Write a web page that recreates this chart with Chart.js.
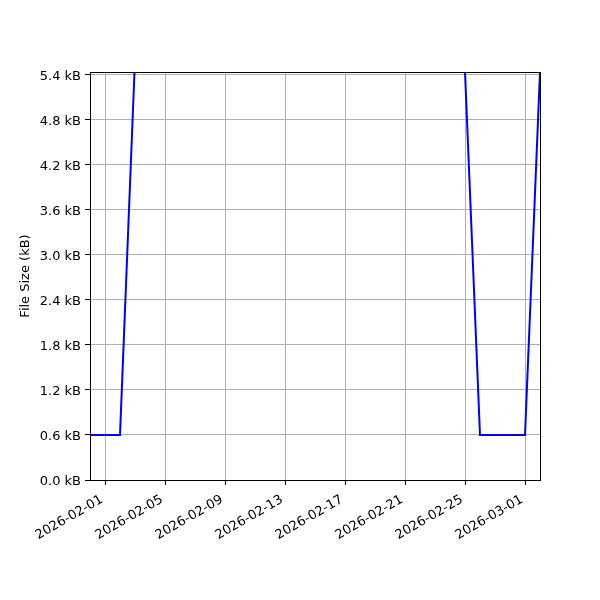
<!DOCTYPE html>
<html>
<head>
<meta charset="utf-8">
<script src="https://cdn.jsdelivr.net/npm/chart.js@4/dist/chart.umd.min.js"></script>
<style>
  html, body { margin: 0; padding: 0; background: #fff; }
  #wrap { width: 600px; height: 600px; }
</style>
</head>
<body>
<div id="wrap"><canvas id="sizeChart" width="600" height="600"></canvas></div>
<script>
// daily file size samples (kB); days from Feb 4 to Feb 24 are above the visible axis
const dates = [
    '2026-01-31', '2026-02-01', '2026-02-02', '2026-02-03', '2026-02-04',
    '2026-02-05', '2026-02-06', '2026-02-07', '2026-02-08', '2026-02-09',
    '2026-02-10', '2026-02-11', '2026-02-12', '2026-02-13', '2026-02-14',
    '2026-02-15', '2026-02-16', '2026-02-17', '2026-02-18', '2026-02-19',
    '2026-02-20', '2026-02-21', '2026-02-22', '2026-02-23', '2026-02-24',
    '2026-02-25', '2026-02-26', '2026-02-27', '2026-02-28', '2026-03-01',
    '2026-03-02'
];
const sizesKB = [
    0.6, 0.6, 0.6, 5.6, 6.0,
    6.0, 6.0, 6.0, 6.0, 6.0,
    6.0, 6.0, 6.0, 6.0, 6.0,
    6.0, 6.0, 6.0, 6.0, 6.0,
    6.0, 6.0, 6.0, 6.0, 6.0,
    5.43, 0.6, 0.6, 0.6, 0.6,
    5.43
];
const xTickDates = [
    '2026-02-01', '2026-02-05', '2026-02-09', '2026-02-13',
    '2026-02-17', '2026-02-21', '2026-02-25', '2026-03-01'
];
const yTicks = [0, 0.6, 1.2, 1.8, 2.4, 3.0, 3.6, 4.2, 4.8, 5.4];
const yTop = 5.43;

const DAY = 86400000;
const t0 = Date.parse(dates[0] + 'T00:00:00Z');
const dayIndex = d => (Date.parse(d + 'T00:00:00Z') - t0) / DAY;
const labelFor = v => new Date(t0 + v * DAY).toISOString().slice(0, 10);

const points = dates.map((d, i) => ({ x: dayIndex(d), y: sizesKB[i] }));

// black frame around the plot area, like a boxed axes
const framePlugin = {
    id: 'frame',
    afterDraw(chart) {
        const { ctx, chartArea: a } = chart;
        ctx.save();
        ctx.strokeStyle = '#000';
        ctx.lineWidth = 1;
        ctx.strokeRect(Math.round(a.left) + 0.5, Math.round(a.top) + 0.5,
            Math.round(a.right - a.left), Math.round(a.bottom - a.top));
        ctx.restore();
    }
};

Chart.defaults.font.family = '"DejaVu Sans", sans-serif';
Chart.defaults.font.size = 13;
Chart.defaults.color = '#000';

new Chart(document.getElementById('sizeChart').getContext('2d'), {
    type: 'line',
    data: {
        datasets: [{
            label: 'File Size',
            data: points,
            borderColor: '#0000ff',
            borderWidth: 2,
            pointRadius: 0,
            tension: 0,
            fill: false
        }]
    },
    options: {
        responsive: false,
        animation: false,
        layout: { padding: { top: 72, right: 60, left: 0, bottom: 0 } },
        plugins: {
            legend: { display: false },
            tooltip: { enabled: false }
        },
        scales: {
            x: {
                type: 'linear',
                min: 0,
                max: dayIndex(dates[dates.length - 1]),
                afterBuildTicks: s => { s.ticks = xTickDates.map(d => ({ value: dayIndex(d) })); },
                afterFit: s => { s.height = 120; },
                ticks: {
                    autoSkip: false,
                    minRotation: 30,
                    maxRotation: 30,
                    padding: 7,
                    labelOffset: -3,
                    callback: v => labelFor(v)
                },
                grid: { color: '#b0b0b0', lineWidth: 1, tickColor: '#000', tickLength: 5 },
                border: { color: '#000', width: 1 }
            },
            y: {
                min: 0,
                max: yTop,
                afterBuildTicks: s => { s.ticks = yTicks.map(v => ({ value: v })); },
                afterFit: s => { s.width = 90; },
                ticks: {
                    padding: 4,
                    labelOffset: 2,
                    callback: v => v.toFixed(1) + ' kB'
                },
                grid: { color: '#b0b0b0', lineWidth: 1, tickColor: '#000', tickLength: 5 },
                border: { color: '#000', width: 1 },
                title: {
                    display: true,
                    text: 'File Size (kB)',
                    padding: { top: 18, bottom: 0 }
                }
            }
        }
    },
    plugins: [framePlugin]
});
</script>
</body>
</html>
